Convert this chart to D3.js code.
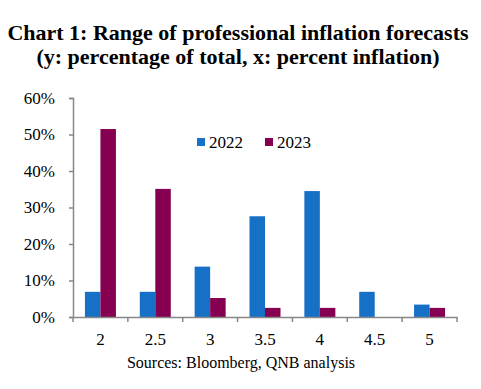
<!DOCTYPE html>
<html>
<head>
<meta charset="utf-8">
<script src="https://cdn.jsdelivr.net/npm/d3@7"></script>
<style>
  body { margin: 0; background: #fff; }
  svg text { font-family: "Liberation Serif", "Times New Roman", serif; fill: #000; }
</style>
</head>
<body>
<script>
// chart data
var categories = ["2", "2.5", "3", "3.5", "4", "4.5", "5"];
var seriesNames = ["2022", "2023"];
var values2022 = [6.9, 6.9, 13.8, 27.6, 34.5, 6.9, 3.4];
var values2023 = [51.5, 35.1, 5.2, 2.5, 2.5, 0, 2.5];
var yTicks = [0, 10, 20, 30, 40, 50, 60];
var colors = ["#1570C6", "#850051"];

var width = 481, height = 389;
var margin = { left: 73, right: 24, top: 98, bottom: 72 };
var serif = "Liberation Serif";

var svg = d3.select("body").append("svg")
    .attr("width", width)
    .attr("height", height);

// title
var title = svg.append("text")
    .attr("text-anchor", "middle")
    .attr("font-family", serif)
    .attr("font-weight", "bold")
    .attr("font-size", "22px");
title.append("tspan").attr("x", 238).attr("y", 40).text("Chart 1: Range of professional inflation forecasts");
title.append("tspan").attr("x", 238).attr("y", 64).text("(y: percentage of total, x: percent inflation)");

var x = d3.scaleBand()
    .domain(categories)
    .range([margin.left, width - margin.right]);

var y = d3.scaleLinear()
    .domain([0, 60])
    .range([height - margin.bottom, margin.top]);

var inner = d3.scaleBand()
    .domain(seriesNames)
    .range([x.bandwidth() / 2 - 15.5, x.bandwidth() / 2 + 15.5]);

var rows = categories.map(function (c, i) {
    return { cat: c, vals: [values2022[i], values2023[i]] };
});

var groups = svg.selectAll(".grp")
    .data(rows)
    .enter().append("g")
    .attr("class", "grp")
    .attr("transform", function (d) { return "translate(" + x(d.cat) + ",0)"; });

groups.selectAll("rect")
    .data(function (d) { return d.vals.map(function (v, j) { return { s: seriesNames[j], v: v, j: j }; }); })
    .enter().append("rect")
    .attr("x", function (d) { return inner(d.s); })
    .attr("width", inner.bandwidth())
    .attr("y", function (d) { return y(d.v); })
    .attr("height", function (d) { return y(0) - y(d.v); })
    .attr("fill", function (d) { return colors[d.j]; });

// y axis
var yAxis = svg.append("g")
    .attr("transform", "translate(" + margin.left + ",0)")
    .call(d3.axisLeft(y).tickValues(yTicks).tickSize(4).tickPadding(14)
        .tickFormat(function (d) { return d + "%"; }));
yAxis.attr("font-family", serif).attr("font-size", 17);
yAxis.selectAll("line, path").attr("stroke", "#878787").attr("stroke-width", 1.5);

// x axis
var xAxis = svg.append("g")
    .attr("transform", "translate(0," + y(0) + ")")
    .call(d3.axisBottom(x).tickSize(0).tickPadding(16));
xAxis.attr("font-family", serif).attr("font-size", 17);
xAxis.select("path").attr("stroke", "#878787").attr("stroke-width", 1.5);
xAxis.selectAll(".tick line").remove();
// tick marks between categories
var edges = categories.map(function (c) { return x(c); }).concat([x.range()[1]]);
xAxis.selectAll(".edge")
    .data(edges)
    .enter().append("line")
    .attr("class", "edge")
    .attr("x1", function (d) { return d; })
    .attr("x2", function (d) { return d; })
    .attr("y1", 0)
    .attr("y2", 5)
    .attr("stroke", "#878787")
    .attr("stroke-width", 1.5);

// legend
var legend = svg.append("g").attr("transform", "translate(197,138)");
seriesNames.forEach(function (s, i) {
    var g = legend.append("g").attr("transform", "translate(" + (i * 68) + ",0)");
    g.append("rect").attr("width", 8).attr("height", 8).attr("fill", colors[i]);
    g.append("text").attr("x", 12).attr("y", 9.5).attr("font-family", serif)
        .attr("font-size", "17px").text(s);
});

// source
svg.append("text")
    .attr("x", 241)
    .attr("y", 368)
    .attr("text-anchor", "middle")
    .attr("font-family", serif)
    .attr("font-size", "16px")
    .text("Sources: Bloomberg, QNB analysis");
</script>
</body>
</html>
